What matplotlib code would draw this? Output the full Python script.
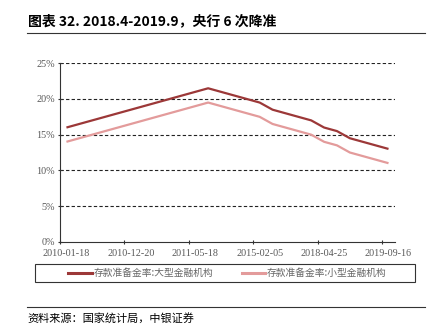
import numpy as np
import matplotlib.pyplot as plt
from matplotlib.lines import Line2D
from matplotlib.patches import Rectangle

plt.rcParams['font.family'] = ['Noto Sans CJK SC', 'DejaVu Sans']

# 存款准备金率调整日期（类目轴）
dates = ["2010-01-18", "2010-02-25", "2010-05-10", "2010-11-16", "2010-11-29",
         "2010-12-20", "2011-01-20", "2011-02-24", "2011-03-25", "2011-04-21",
         "2011-05-18", "2011-06-20", "2011-12-05", "2012-02-24", "2012-05-18",
         "2015-02-05", "2015-04-20", "2015-09-06", "2015-10-24", "2016-03-01",
         "2018-04-25", "2018-07-05", "2018-10-15", "2019-01-15", "2019-01-25",
         "2019-09-16"]
large = [16.0, 16.5, 17.0, 17.5, 18.0, 18.5, 19.0, 19.5, 20.0, 20.5,
         21.0, 21.5, 21.0, 20.5, 20.0, 19.5, 18.5, 18.0, 17.5, 17.0,
         16.0, 15.5, 14.5, 14.0, 13.5, 13.0]
small = [14.0, 14.5, 15.0, 15.5, 16.0, 16.5, 17.0, 17.5, 18.0, 18.5,
         19.0, 19.5, 19.0, 18.5, 18.0, 17.5, 16.5, 16.0, 15.5, 15.0,
         14.0, 13.5, 12.5, 12.0, 11.5, 11.0]
label_large = "存款准备金率:大型金融机构"
label_small = "存款准备金率:小型金融机构"
yticks = [0, 5, 10, 15, 20, 25]

c_large = "#9c3838"
c_small = "#e39b9b"
grey = "#595959"
serif = "Liberation Serif"

fig = plt.figure(figsize=(4.3, 3.25), dpi=100)
ax = fig.add_axes([0.1395, 0.2563, 0.779, 0.5489])

x = np.arange(len(dates))
ax.plot(x, large, color=c_large, lw=1.6, solid_capstyle="butt")
ax.plot(x, small, color=c_small, lw=1.6, solid_capstyle="butt")

ax.set_xlim(-0.5, len(dates) - 0.5)
ax.set_ylim(0, 25)

# 横轴：每5个类目一个标签，刻度在类目边界
step = 5
ax.set_xticks(x[::step])
ax.set_xticklabels([dates[i] for i in x[::step]], fontfamily=serif,
                   fontsize=7.3, color=grey)
ax.set_xticks(np.arange(-0.5, len(dates), step), minor=True)
ax.tick_params(axis="x", which="major", length=0, pad=5)
ax.tick_params(axis="x", which="minor", length=3, direction="inout",
               width=0.8, color="#333333")

ax.set_yticks(yticks)
ax.set_yticklabels([f"{v}%" for v in yticks], fontfamily=serif,
                   fontsize=7.3, color=grey)
ax.tick_params(axis="y", length=3, direction="inout", width=0.8,
               color="#333333", pad=2)

for v in yticks[1:]:
    ax.axhline(v, color="#222222", lw=0.8, ls=(0, (3, 2)), zorder=0)

for s in ["top", "right"]:
    ax.spines[s].set_visible(False)
for s in ["left", "bottom"]:
    ax.spines[s].set_color("#333333")
    ax.spines[s].set_linewidth(0.8)

# 图例：外框单独画，图例本身居中
box = (0.0814, 0.1323, 0.8837, 0.0545)
fig.add_artist(Rectangle(box[:2], box[2], box[3], transform=fig.transFigure,
                         fill=False, edgecolor="#333333", lw=0.8))
handles = [Line2D([], [], color=c_large, lw=2.2),
           Line2D([], [], color=c_small, lw=2.2)]
leg = fig.legend(handles, [label_large, label_small], loc="center",
                 bbox_to_anchor=(box[0] + box[2] / 2 + 0.006,
                                 box[1] + box[3] / 2),
                 ncol=2, frameon=False, fontsize=7,
                 handlelength=2.4, handletextpad=0.15, borderpad=0,
                 columnspacing=3.0)
for t in leg.get_texts():
    t.set_color("#666666")

# 标题与来源
fig.text(0.065, 0.935, "图表 32. 2018.4-2019.9，央行 6 次降准",
         fontsize=10, fontweight="bold", ha="left", va="center")
fig.add_artist(Line2D([0.063, 0.988], [0.898, 0.898], color="#333333", lw=0.8))
fig.add_artist(Line2D([0.063, 0.988], [0.056, 0.056], color="#333333", lw=0.8))
fig.text(0.065, 0.022, "资料来源：国家统计局，中银证券", fontsize=8,
         style="italic", ha="left", va="center")

fig.savefig("out.png", dpi=100)
